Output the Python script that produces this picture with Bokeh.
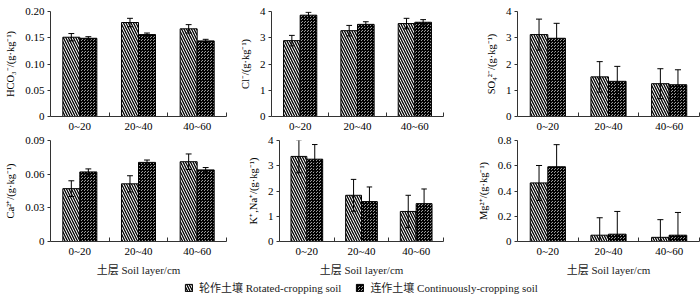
from bokeh.plotting import figure
from bokeh.models import (ColumnDataSource, Range1d, FixedTicker, PrintfTickFormatter,
                          Legend, LegendItem)
from bokeh.layouts import column, row
from bokeh.embed import file_html
from bokeh.resources import INLINE

# ---------------- data ----------------
layers = ["0~20", "20~40", "40~60"]

hco3_rot = [0.151, 0.179, 0.167]
hco3_rot_err = [0.007, 0.008, 0.008]
hco3_con = [0.149, 0.156, 0.144]
hco3_con_err = [0.003, 0.003, 0.003]

cl_rot = [2.89, 3.27, 3.54]
cl_rot_err = [0.20, 0.20, 0.20]
cl_con = [3.86, 3.51, 3.59]
cl_con_err = [0.11, 0.10, 0.10]

so4_rot = [3.12, 1.51, 1.25]
so4_rot_err = [0.59, 0.58, 0.57]
so4_con = [2.98, 1.34, 1.21]
so4_con_err = [0.57, 0.57, 0.57]

ca_rot = [0.0471, 0.0514, 0.0711]
ca_rot_err = [0.0070, 0.0072, 0.0069]
ca_con = [0.0620, 0.0705, 0.0638]
ca_con_err = [0.0027, 0.0021, 0.0021]

kna_rot = [3.37, 1.83, 1.19]
kna_rot_err = [0.65, 0.63, 0.64]
kna_con = [3.26, 1.58, 1.50]
kna_con_err = [0.58, 0.58, 0.58]

mg_rot = [0.464, 0.050, 0.033]
mg_rot_err = [0.138, 0.138, 0.140]
mg_con = [0.592, 0.058, 0.050]
mg_con_err = [0.175, 0.180, 0.180]

label_rot = "轮作土壤 Rotated-cropping soil"
label_con = "连作土壤 Continuously-cropping soil"
xlabel = "土层 Soil layer/cm"

FONT = "'Liberation Serif', 'Noto Sans CJK SC', serif"
AX = "#333333"

ROT_STYLE = dict(fill_color="white", line_color="black", line_width=1,
                 hatch_pattern="left_diagonal_line", hatch_color="black", hatch_scale=5, hatch_weight=1.3)
CON_STYLE = dict(fill_color="#9a9a9a", line_color="black", line_width=1,
                 hatch_pattern="criss_cross", hatch_color="black", hatch_scale=3, hatch_weight=1)

BW = 0.29
OFF = 0.145
CAP = 0.05


def panel(width, height, bl, br, bt, bb, ylab, ymax, yticks, yfmt, rot, rot_e, con, con_e, show_xlabel):
    p = figure(width=width, height=height, output_backend="svg", toolbar_location=None,
               x_range=Range1d(0, len(layers)), y_range=Range1d(0, ymax),
               min_border_left=bl, min_border_right=br, min_border_top=bt, min_border_bottom=bb)
    p.outline_line_color = None
    p.grid.visible = False
    p.background_fill_color = "white"
    centers = [i + 0.5 for i in range(len(layers))]
    for vals, errs, off, style in ((rot, rot_e, -OFF, ROT_STYLE), (con, con_e, OFF, CON_STYLE)):
        xs = [c + off for c in centers]
        up = [v + e for v, e in zip(vals, errs)]
        lo = [v - e for v, e in zip(vals, errs)]
        src = ColumnDataSource(dict(x=xs, top=vals, up=up, lo=lo,
                                    xl=[x - CAP for x in xs], xr=[x + CAP for x in xs]))
        p.vbar(x="x", top="top", width=BW, bottom=0, source=src, **style)
        p.segment(x0="x", y0="lo", x1="x", y1="up", source=src, line_color="black", line_width=1)
        p.segment(x0="xl", y0="up", x1="xr", y1="up", source=src, line_color="black", line_width=1)
        p.segment(x0="xl", y0="lo", x1="xr", y1="lo", source=src, line_color="black", line_width=1)

    xa = p.xaxis[0]
    xa.ticker = FixedTicker(ticks=centers, minor_ticks=[i + 1 for i in range(len(layers))])
    xa.major_label_overrides = {c: lab for c, lab in zip(centers, layers)}
    xa.major_tick_in = 0
    xa.major_tick_out = 0
    xa.minor_tick_in = 4
    xa.minor_tick_out = 0
    xa.minor_tick_line_color = AX
    xa.axis_line_color = AX
    xa.major_label_text_font = FONT
    xa.major_label_text_font_size = "11px"
    xa.major_label_text_color = "black"
    xa.major_label_standoff = 3
    if show_xlabel:
        xa.axis_label = xlabel
        xa.axis_label_text_font = FONT
        xa.axis_label_text_font_size = "11px"
        xa.axis_label_text_font_style = "normal"
        xa.axis_label_text_color = "#222222"
        xa.axis_label_standoff = 4

    ya = p.yaxis[0]
    ya.ticker = FixedTicker(ticks=yticks)
    ya.formatter = PrintfTickFormatter(format=yfmt)
    ya.major_label_overrides = {0: "0"}
    ya.major_tick_in = 0
    ya.major_tick_out = 3
    ya.minor_tick_line_color = None
    ya.axis_line_color = AX
    ya.major_tick_line_color = AX
    ya.major_label_text_font = FONT
    ya.major_label_text_font_size = "11px"
    ya.major_label_text_color = "black"
    ya.major_label_standoff = 3
    ya.axis_label = ylab
    ya.axis_label_text_font = FONT
    ya.axis_label_text_font_size = "10.5px"
    ya.axis_label_text_font_style = "normal"
    ya.axis_label_text_color = "black"
    ya.axis_label_standoff = 6
    return p


TH, BH = 135, 143
f1 = panel(232, TH, 50, 6, 11, 19, "HCO₃⁻/(g·kg⁻¹)", 0.20, [0, 0.05, 0.10, 0.15, 0.20], "%.2f",
           hco3_rot, hco3_rot_err, hco3_con, hco3_con_err, False)
f2 = panel(235, TH, 39, 24, 11, 19, "Cl⁻/(g·kg⁻¹)", 4, [0, 1, 2, 3, 4], "%d",
           cl_rot, cl_rot_err, cl_con, cl_con_err, False)
f3 = panel(233, TH, 50, 1, 11, 19, "SO₄²⁻/(g·kg⁻¹)", 4, [0, 1, 2, 3, 4], "%d",
           so4_rot, so4_rot_err, so4_con, so4_con_err, False)
f4 = panel(232, BH, 50, 6, 5, 32, "Ca²⁺/(g·kg⁻¹)", 0.09, [0, 0.03, 0.06, 0.09], "%.2f",
           ca_rot, ca_rot_err, ca_con, ca_con_err, True)
f5 = panel(235, BH, 47, 24, 5, 32, "K⁺,Na⁺/(g·kg⁻¹)", 4, [0, 1, 2, 3, 4], "%d",
           kna_rot, kna_rot_err, kna_con, kna_con_err, True)
f6 = panel(233, BH, 50, 1, 5, 32, "Mg²⁺/(g·kg⁻¹)", 0.8, [0, 0.2, 0.4, 0.6, 0.8], "%.1f",
           mg_rot, mg_rot_err, mg_con, mg_con_err, True)

# legend strip (proxy glyphs lie outside the visible range, only the legend shows them)
lg = figure(width=700, height=17, output_backend="svg", toolbar_location=None,
            x_range=Range1d(0, 1), y_range=Range1d(0, 1),
            min_border_left=0, min_border_right=0, min_border_top=0, min_border_bottom=0)
lg.axis.visible = False
lg.grid.visible = False
lg.outline_line_color = None
proxy = ColumnDataSource(dict(x=[10], top=[10]))
r1 = lg.vbar(x="x", top="top", bottom=9, width=0.1, source=proxy, **ROT_STYLE)
r2 = lg.vbar(x="x", top="top", bottom=9, width=0.1, source=proxy, **CON_STYLE)
legend = Legend(items=[LegendItem(label=label_rot, renderers=[r1]),
                       LegendItem(label=label_con, renderers=[r2])],
                orientation="horizontal", location=(184, 0),
                label_text_font=FONT, label_text_font_size="11px", label_text_color="#222222",
                glyph_width=9, glyph_height=9, label_height=12, label_standoff=6,
                spacing=14, padding=2, margin=0, border_line_color=None,
                background_fill_alpha=0)
lg.add_layout(legend, "center")

layout = column(row(f1, f2, f3), row(f4, f5, f6), lg)
open("out.html", "w").write(file_html(layout, INLINE))
